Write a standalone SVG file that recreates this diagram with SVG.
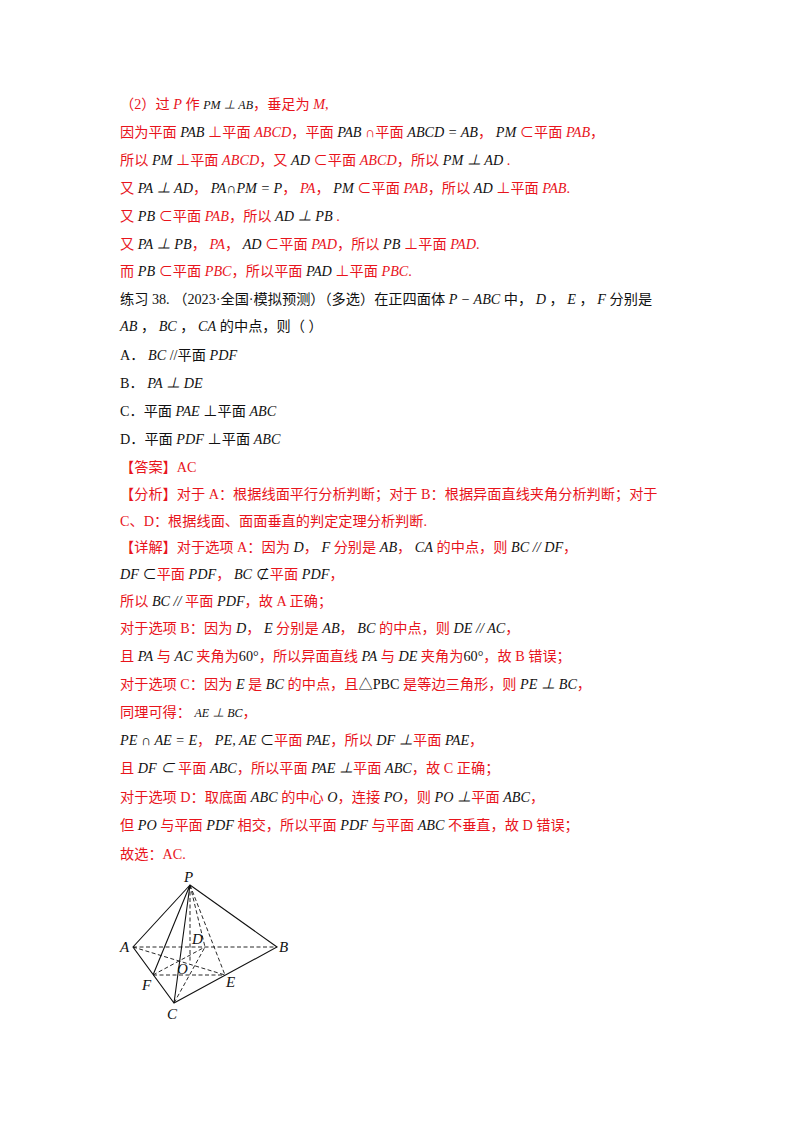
<svg xmlns="http://www.w3.org/2000/svg" width="800" height="1132" viewBox="0 0 800 1132">
<style>
text{font-family:"Liberation Serif","Noto Sans CJK SC",serif;font-size:14.2px;fill:#e8141c}
.k{fill:#111}
.m{font-style:italic}
.s{fill:none;stroke:#111;stroke-width:1.1}
.d{fill:none;stroke:#111;stroke-width:0.9;stroke-dasharray:4 2.5}
.l{font-family:"Liberation Serif",serif;font-style:italic;font-size:15px;fill:#111}
</style>
<rect width="800" height="1132" fill="#fff"/>
<g id="text">
<text x="120" y="109">（2）过 <tspan class="m">P</tspan> 作 <tspan class="k m" font-size="12">PM ⊥ AB</tspan>，垂足为 <tspan class="m">M</tspan>,</text>
<text x="120" y="137">因为平面 <tspan class="k m">PAB</tspan> ⊥平面 <tspan class="m">ABCD</tspan>，平面 <tspan class="k m">PAB</tspan> ∩平面 <tspan class="k m">ABCD = AB</tspan>， <tspan class="k m">PM</tspan> ⊂平面 <tspan class="m">PAB</tspan>，</text>
<text x="120" y="165">所以 <tspan class="k m">PM</tspan> ⊥平面 <tspan class="m">ABCD</tspan>，又 <tspan class="k m">AD</tspan> ⊂平面 <tspan class="m">ABCD</tspan>，所以 <tspan class="k m">PM ⊥ AD</tspan> .</text>
<text x="120" y="193">又 <tspan class="k m">PA ⊥ AD</tspan>， <tspan class="k m">PA∩PM = P</tspan>， <tspan class="m">PA</tspan>， <tspan class="k m">PM</tspan> ⊂平面 <tspan class="m">PAB</tspan>，所以 <tspan class="k m">AD</tspan> ⊥平面 <tspan class="m">PAB</tspan>.</text>
<text x="120" y="221">又 <tspan class="k m">PB</tspan> ⊂平面 <tspan class="m">PAB</tspan>，所以 <tspan class="k m">AD ⊥ PB</tspan> .</text>
<text x="120" y="249">又 <tspan class="k m">PA  ⊥  PB</tspan>， <tspan class="m">PA</tspan>， <tspan class="k m">AD</tspan> ⊂平面 <tspan class="m">PAD</tspan>，所以 <tspan class="k m">PB</tspan> ⊥平面 <tspan class="m">PAD</tspan>.</text>
<text x="120" y="276">而 <tspan class="k m">PB</tspan> ⊂平面 <tspan class="m">PBC</tspan>，所以平面 <tspan class="k m">PAD</tspan> ⊥平面 <tspan class="m">PBC</tspan>.</text>
<text x="120" y="304" class="k">练习 38. （2023·全国·模拟预测）（多选）在正四面体 <tspan class="m">P − ABC</tspan> 中， <tspan class="m">D</tspan> ， <tspan class="m">E</tspan> ， <tspan class="m">F</tspan> 分别是</text>
<text x="120" y="331" class="k"><tspan class="m">AB</tspan> ， <tspan class="m">BC</tspan> ， <tspan class="m">CA</tspan> 的中点，则（     ）</text>
<text x="120" y="360" class="k">A． <tspan class="m">BC</tspan> //平面 <tspan class="m">PDF</tspan></text>
<text x="120" y="388" class="k">B． <tspan class="m">PA ⊥ DE</tspan></text>
<text x="120" y="416" class="k">C．平面 <tspan class="m">PAE</tspan> ⊥平面 <tspan class="m">ABC</tspan></text>
<text x="120" y="444" class="k">D．平面 <tspan class="m">PDF</tspan> ⊥平面 <tspan class="m">ABC</tspan></text>
<text x="120" y="472">【答案】AC</text>
<text x="120" y="499">【分析】对于 A：根据线面平行分析判断；对于 B：根据异面直线夹角分析判断；对于</text>
<text x="120" y="526">C、D：根据线面、面面垂直的判定定理分析判断.</text>
<text x="120" y="552">【详解】对于选项 A：因为 <tspan class="k m">D</tspan>， <tspan class="k m">F</tspan> 分别是 <tspan class="k m">AB</tspan>， <tspan class="k m">CA</tspan> 的中点，则 <tspan class="k m">BC // DF</tspan>，</text>
<text x="120" y="579"><tspan class="k m">DF</tspan> <tspan class="k">⊂</tspan>平面 <tspan class="k m">PDF</tspan>， <tspan class="k m">BC</tspan> <tspan class="k">⊄</tspan>平面 <tspan class="k m">PDF</tspan>，</text>
<text x="120" y="606">所以 <tspan class="k m">BC //</tspan> 平面 <tspan class="k m">PDF</tspan>，故 A 正确；</text>
<text x="120" y="633">对于选项 B：因为 <tspan class="k m">D</tspan>， <tspan class="k m">E</tspan> 分别是 <tspan class="k m">AB</tspan>， <tspan class="k m">BC</tspan> 的中点，则 <tspan class="k m">DE // AC</tspan>，</text>
<text x="120" y="661">且 <tspan class="k m">PA</tspan> 与 <tspan class="k m">AC</tspan> 夹角为<tspan class="k">60°</tspan>，所以异面直线 <tspan class="k m">PA</tspan> 与 <tspan class="k m">DE</tspan> 夹角为<tspan class="k">60°</tspan>，故 B 错误；</text>
<text x="120" y="689">对于选项 C：因为 <tspan class="k m">E</tspan> 是 <tspan class="k m">BC</tspan> 的中点，且<tspan class="k">△PBC</tspan> 是等边三角形，则 <tspan class="k m">PE ⊥ BC</tspan>，</text>
<text x="120" y="717">同理可得： <tspan class="k m" font-size="12">AE ⊥ BC</tspan>，</text>
<text x="120" y="745"><tspan class="k m">PE ∩ AE = E</tspan>， <tspan class="k m">PE, AE</tspan> <tspan class="k">⊂</tspan>平面 <tspan class="k m">PAE</tspan>，所以 <tspan class="k m">DF ⊥</tspan>平面 <tspan class="k m">PAE</tspan>，</text>
<text x="120" y="773">且 <tspan class="k m">DF ⊂</tspan> 平面 <tspan class="k m">ABC</tspan>，所以平面 <tspan class="k m">PAE ⊥</tspan>平面 <tspan class="k m">ABC</tspan>，故 C 正确；</text>
<text x="120" y="802">对于选项 D：取底面 <tspan class="k m">ABC</tspan> 的中心 <tspan class="k m">O</tspan>，连接 <tspan class="k m">PO</tspan>，则 <tspan class="k m">PO ⊥</tspan>平面 <tspan class="k m">ABC</tspan>，</text>
<text x="120" y="830">但 <tspan class="k m">PO</tspan> 与平面 <tspan class="k m">PDF</tspan> 相交，所以平面 <tspan class="k m">PDF</tspan> 与平面 <tspan class="k m">ABC</tspan> 不垂直，故 D 错误；</text>
<text x="120" y="859">故选：AC.</text>
</g>
<g id="connectors">
<path class="s" d="M190 885L133 947L174 1003L277 947Z M190 885L174 1003 M190 885L153 975"/>
<path class="d" d="M133 947L277 947 M133 947L225 975 M153 975L225 975 M174 1003L205 947 M153 975L205 947 M190 885L190 963 M190 885L225 975 M190 885L205 947"/>
</g>
<g id="labels">
<text class="l" x="184" y="882">P</text>
<text class="l" x="120" y="952">A</text>
<text class="l" x="279" y="952">B</text>
<text class="l" x="192" y="944">D</text>
<text class="l" x="177" y="974">O</text>
<text class="l" x="142" y="990">F</text>
<text class="l" x="226" y="987">E</text>
<text class="l" x="167" y="1019">C</text>
</g>
</svg>
